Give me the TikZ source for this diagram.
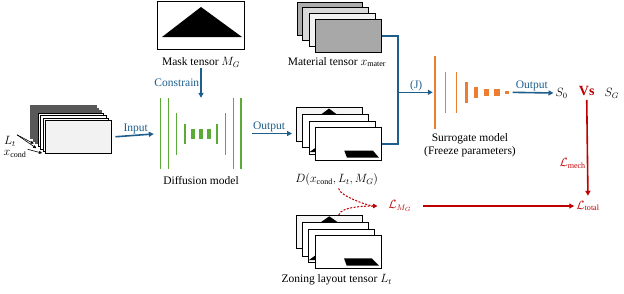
\documentclass[tikz,border=0pt]{standalone}
\usepackage{fontspec}
\setmainfont{Liberation Serif}
\usetikzlibrary{arrows.meta}

\definecolor{flowblue}{RGB}{30,94,140}
\definecolor{netgreen}{RGB}{92,170,56}
\definecolor{surorange}{RGB}{237,125,49}
\definecolor{lossred}{RGB}{192,0,0}
\definecolor{noisegray}{RGB}{88,88,88}

\tikzset{
  sheet/.style={draw=black, line width=0.8pt, fill=white, minimum width=65.7pt,
    minimum height=33.3pt, inner sep=0pt, anchor=north west},
  lbl/.style={font=\fontsize{11.5}{13}\selectfont, inner sep=1pt},
  bluelbl/.style={lbl, text=flowblue},
  redlbl/.style={lbl, text=lossred},
  flow/.style={draw=flowblue, line width=1.6pt},
  flowarr/.style={flow, -{Triangle[length=5pt,width=5pt]}},
  lossarr/.style={draw=lossred, line width=1.6pt, -{Triangle[length=5pt,width=5pt]}},
  lossdash/.style={draw=lossred, line width=1pt, dash pattern=on 2pt off 1.5pt,
    -{Triangle[length=4pt,width=4pt]}},
  thinarr/.style={draw=black, line width=0.6pt, -{Triangle[length=3pt,width=3pt]}},
  gbar/.style={netgreen, line width=1.5pt},
  obar/.style={surorange, line width=1.5pt},
  box/.style={minimum width=#1, inner sep=0pt}
}

\begin{document}
\begin{tikzpicture}[x=1pt, y=-1pt]
    \useasboundingbox (0,0) rectangle (624,293);

    % input: noisy sheets and conditions
    \node[sheet, fill=noisegray, draw=noisegray] (nz1) at (30,105) {};
    \node[sheet, fill=noisegray, draw=noisegray] (nz2) at (32.5,107.5) {};
    \node[sheet, fill=noisegray, draw=noisegray] (nz3) at (35,110) {};
    \node[sheet, line width=0.6pt] (in1) at (37.7,112.7) {};
    \node[sheet, line width=0.6pt] (in2) at (40.3,115.3) {};
    \node[sheet, line width=0.6pt] (in3) at (42.7,117.7) {};
    \node[sheet, fill=gray!10] (in4) at (45,120) {};
    \node[lbl] (lt) at (10,141) {$L_t$};
    \node[lbl] (xc) at (15,154) {$x_{\mathrm{cond}}$};
    \draw[thinarr] (lt.north east) -- ([xshift=-4pt, yshift=3pt]in1.south west);
    \draw[thinarr] (lt.north east) -- ([xshift=-4pt, yshift=1pt]in2.south west);
    \draw[thinarr] (xc.north east) -- ([xshift=-3pt, yshift=1pt]in4.south west);

    % mask tensor
    \node[draw, line width=0.8pt, minimum width=87pt, minimum height=48pt, inner sep=0pt]
      (mask) at (200.5,25) {};
    \fill[black] (162,37) -- (201,7) -- (242,37) -- cycle;
    \node[lbl] (masklbl) at (201,62) {Mask tensor $M_G$};

    % diffusion model
    \node[box=82pt, minimum height=71pt] (diff) at (201,133.5) {};
    \draw[gbar] (160.3,98) -- (160.3,169);
    \draw[gbar] (168.7,98) -- (168.7,169);
    \draw[gbar] (176.7,113) -- (176.7,155);
    \draw[gbar, line width=2.2pt] (185,124) -- (185,144);
    \fill[netgreen] (191,129) rectangle (195,139);
    \fill[netgreen] (199,129) rectangle (203,139);
    \fill[netgreen] (207,129) rectangle (211,139);
    \draw[gbar, line width=2.2pt] (216.7,124) -- (216.7,144);
    \draw[gbar] (225.3,113) -- (225.3,155);
    \draw[gbar] (233.3,98) -- (233.3,169);
    \draw[gbar] (241,98) -- (241,169);
    \node[lbl] (difflbl) at (201,181) {Diffusion model};

    \draw[flowarr] (masklbl.south) -- node[bluelbl, left] {Constrain} (diff.north);
    \draw[flowarr, shorten <=4pt, shorten >=6pt] (in4.east) -- node[bluelbl, above] {Input} (diff.west);

    % material tensor
    \node[sheet, fill=gray!65] (mat1) at (296.7,1.7) {};
    \node[sheet, fill=gray!30] (mat2) at (302.3,6.5) {};
    \node[sheet, fill=gray!10] (mat3) at (309,12.7) {};
    \node[sheet, fill=gray!68] (mat4) at (315,19) {};
    \node[lbl] (matlbl) at (337,62) {Material tensor $x_{\mathrm{mater}}$};

    % generated layouts
    \node[sheet, fill=gray!8] (d1) at (296,107.3) {};
    \fill[black] (313.7,120) -- (329,108.5) -- (344.3,120) -- cycle;
    \node[sheet] (d2) at (302.3,114) {};
    \node[sheet] (d3) at (309,120.7) {};
    \fill[black] (309.6,152) -- (318,146) -- (318,152) -- cycle;
    \node[sheet] (d4) at (315,126.7) {};
    \fill[black] (344.3,150.7) -- (373,150.7) -- (379,157.7) -- (347,157.7) -- cycle;
    \node[lbl] (dlbl) at (336.7,179.3) {$D(x_{\mathrm{cond}}, L_t, M_G)$};

    \draw[flowarr, shorten <=10pt, shorten >=4pt] (diff.east) -- node[bluelbl, above] {Output} (d1.west |- diff.east);

    % zoning layouts
    \node[sheet, fill=gray!8] (z1) at (296,215) {};
    \fill[black] (314,227) -- (329.3,216.3) -- (344.6,227) -- cycle;
    \node[sheet] (z2) at (302.3,222.3) {};
    \node[sheet] (z3) at (308.3,229) {};
    \fill[black] (309,260) -- (318,253.5) -- (318,260) -- cycle;
    \node[sheet] (z4) at (315,235) {};
    \fill[black] (344,258.3) -- (371.7,258.3) -- (379,265.7) -- (346.7,265.7) -- cycle;
    \node[lbl] (zlbl) at (336.7,280) {Zoning layout tensor $L_t$};

    % surrogate model
    \coordinate (join) at (397.7,92.3);
    \node[box=74pt, minimum height=73pt] (sur) at (472,92.3) {};
    \draw[flow] (mat4.east) -| (join);
    \draw[flow] (d4.east) -| (join);
    \draw[flowarr, shorten >=2pt] (join) -- node[bluelbl, above] {(J)} (sur.west);
    \draw[obar] (435,56) -- (435,128.7);
    \draw[obar] (445.3,72) -- (445.3,112.7);
    \draw[obar] (456.7,72) -- (456.7,112.7);
    \draw[obar, line width=3pt] (466,82) -- (466,102.7);
    \fill[surorange] (474,87.3) rectangle (478,97.7);
    \fill[surorange] (484.3,89) rectangle (489.3,96.3);
    \fill[surorange] (494.3,89) rectangle (499.7,96.3);
    \fill[surorange] (504.7,90.7) rectangle (509,94);
    \node[lbl, align=center] (surlbl) at (470,145) {Surrogate model\\(Freeze parameters)};

    % outputs and losses
    \node[lbl] (s0) at (561.7,93) {$S_0$};
    \node[lbl, text=lossred, font=\fontsize{14}{15}\selectfont\bfseries] (vs) at (586.7,91) {Vs};
    \node[lbl] (sg) at (611.7,93) {$S_G$};
    \draw[flowarr, shorten <=3.5pt, shorten >=1pt] (sur.east) -- node[bluelbl, above] {Output} (s0.west);

    \node[redlbl] (ltot) at (588,206) {$\mathcal{L}_{\mathrm{total}}$};
    \node[redlbl] (lmg) at (400,206) {$\mathcal{L}_{M_G}$};
    \draw[lossarr, shorten <=3pt, shorten >=4pt] (vs.south) -- node[redlbl, left, pos=0.65] {$\mathcal{L}_{\mathrm{mech}}$} (ltot.north);
    \draw[lossarr, shorten <=10pt, shorten >=1pt] (lmg.east) -- (ltot.west |- lmg.east);

    \draw[lossdash, shorten <=2pt, shorten >=10pt] ([xshift=1.5pt]dlbl.south) .. controls +(2,10) and +(-18,0) .. (lmg.west);
    \draw[lossdash, shorten >=10pt] ([xshift=9.5pt]z1.north) .. controls +(2,-9) and +(-18,0) .. (lmg.west);
\end{tikzpicture}
\end{document}
